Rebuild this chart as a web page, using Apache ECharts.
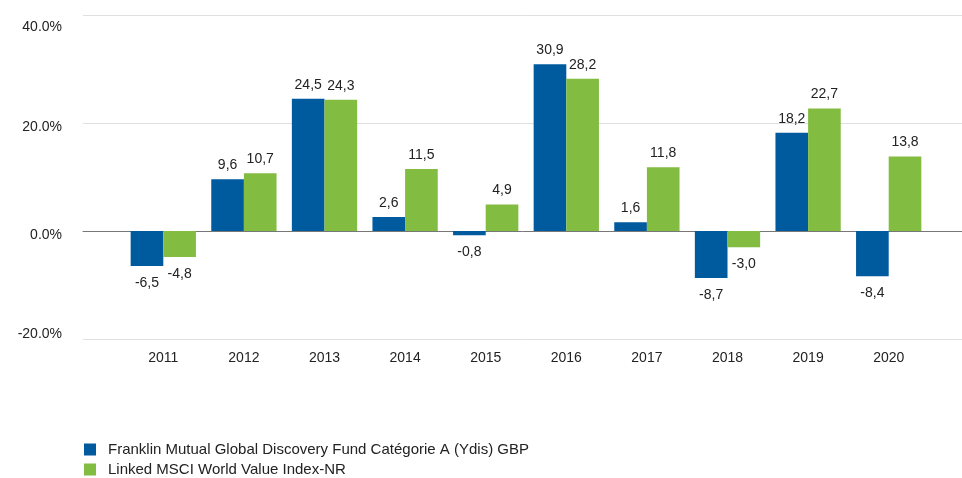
<!DOCTYPE html>
<html>
<head>
<meta charset="utf-8">
<script src="https://cdn.jsdelivr.net/npm/echarts@6/dist/echarts.min.js"></script>
<style>
  html, body { margin: 0; padding: 0; background: #fff; }
  #chart { width: 962px; height: 478px; }
</style>
</head>
<body>
<div id="chart"></div>
<script>
var years = ['2011', '2012', '2013', '2014', '2015', '2016', '2017', '2018', '2019', '2020']
var fundName = 'Franklin Mutual Global Discovery Fund Catégorie A (Ydis) GBP'
var indexName = 'Linked MSCI World Value Index-NR'
var fundValues = [-6.5, 9.6, 24.5, 2.6, -0.8, 30.9, 1.6, -8.7, 18.2, -8.4]
var indexValues = [-4.8, 10.7, 24.3, 11.5, 4.9, 28.2, 11.8, -3.0, 22.7, 13.8]

function withLabels(values) {
  return values.map(function (v) {
    return { value: v, label: { position: v < 0 ? 'bottom' : 'top', distance: v < 0 ? 10 : 7 } }
  })
}

var font = 'Liberation Sans, Arial, sans-serif'
var chart = echarts.init(document.getElementById('chart'))

function legendRow(name, top) {
  return {
    left: 84,
    top: top,
    padding: 0,
    icon: 'rect',
    itemWidth: 12,
    itemHeight: 12,
    textStyle: { fontSize: 15, color: '#222', fontFamily: font, padding: [0, 0, 0, 7] },
    data: [name]
  }
}

function barLabel() {
  return {
    show: true,
    color: '#222',
    fontSize: 14,
    fontFamily: font,
    formatter: function (p) { return p.value.toFixed(1).replace('.', ',') }
  }
}

// the top and bottom tick labels sit pulled inwards, as in the original
function yLabel(v) {
  var s = v.toFixed(1) + '%'
  if (v === 40) return '{hi|' + s + '}'
  if (v === -20) return '{lo|' + s + '}'
  return '{mid|' + s + '}'
}

chart.setOption({
  animation: false,
  textStyle: { fontFamily: font },
  grid: [
    { left: 83, right: 0, top: 15, bottom: 139 },
    { left: 123, right: 33, top: 15, bottom: 139 }
  ],
  legend: [legendRow(fundName, 442), legendRow(indexName, 462)],
  xAxis: [
    {
      gridIndex: 0,
      type: 'value',
      min: 0,
      max: 1,
      axisLine: { show: true, onZero: true, lineStyle: { color: '#777', width: 1 } },
      axisTick: { show: false },
      axisLabel: { show: false },
      splitLine: { show: false }
    },
    {
      gridIndex: 1,
      type: 'category',
      data: years,
      axisLine: { show: false, onZero: false },
      axisTick: { show: false },
      axisLabel: { color: '#222', fontSize: 14, margin: 12, fontFamily: font }
    }
  ],
  yAxis: [
    {
      gridIndex: 0,
      type: 'value',
      min: -20,
      max: 40,
      interval: 20,
      axisLine: { show: false },
      axisTick: { show: false },
      axisLabel: {
        color: '#222',
        fontSize: 14,
        margin: 21,
        fontFamily: font,
        formatter: yLabel,
        rich: {
          hi: { fontSize: 14, color: '#222', padding: [25, 0, 0, 0] },
          mid: { fontSize: 14, color: '#222', padding: [8, 0, 0, 0] },
          lo: { fontSize: 14, color: '#222', padding: [0, 0, 10, 0] }
        }
      },
      splitLine: { lineStyle: { color: '#e0e0e0', width: 1 } }
    },
    {
      gridIndex: 1,
      type: 'value',
      min: -20,
      max: 40,
      interval: 20,
      show: false
    }
  ],
  series: [
    {
      name: fundName,
      type: 'bar',
      xAxisIndex: 1,
      yAxisIndex: 1,
      barGap: '0%',
      barCategoryGap: '19%',
      itemStyle: { color: '#005A9E' },
      label: barLabel(),
      data: withLabels(fundValues)
    },
    {
      name: indexName,
      type: 'bar',
      xAxisIndex: 1,
      yAxisIndex: 1,
      barGap: '0%',
      barCategoryGap: '19%',
      itemStyle: { color: '#82BC41' },
      label: barLabel(),
      data: withLabels(indexValues)
    }
  ]
})
</script>
</body>
</html>
